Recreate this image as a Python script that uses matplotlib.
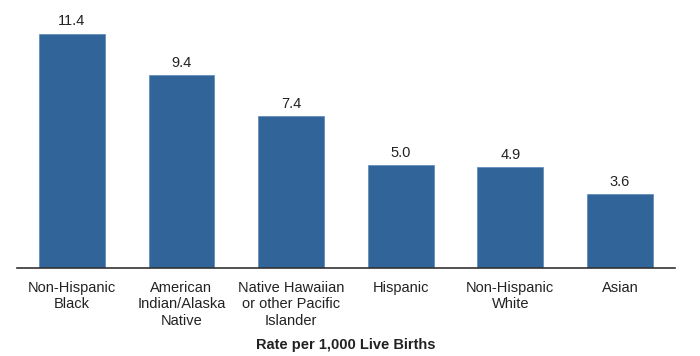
import matplotlib
matplotlib.use("Agg")
import matplotlib.pyplot as plt

categories = ["Non-Hispanic\nBlack", "American\nIndian/Alaska\nNative",
              "Native Hawaiian\nor other Pacific\nIslander", "Hispanic",
              "Non-Hispanic\nWhite", "Asian"]
values = [11.4, 9.4, 7.4, 5.0, 4.9, 3.6]

plt.rcParams['font.family'] = ['Liberation Sans', 'DejaVu Sans']

fig = plt.figure(figsize=(7.0, 3.56), dpi=100)
ax = fig.add_axes([0.0243, 0.247, 0.964 - 0.0243, 0.939 - 0.247])
x = range(len(categories))
bars = ax.bar(x, values, width=0.6, color='#31659A', edgecolor='#5a86b5', linewidth=0.5)
for xi, v in zip(x, values):
    ax.annotate(f"{v:.1f}", (xi, v), xytext=(0, 4), textcoords='offset points',
                ha='center', va='bottom', fontsize=10.5, color='#222222')
ax.set_xlim(-0.5, 5.5)
ax.set_ylim(0, 12)
ax.set_xticks(list(x))
ax.set_xticklabels(categories, fontsize=10.5, color='#222222', linespacing=1.25)
ax.tick_params(axis='x', length=0, pad=9)
ax.set_yticks([])
for s in ['top', 'right', 'left']:
    ax.spines[s].set_visible(False)
ax.spines['bottom'].set_color('#333333')
ax.spines['bottom'].set_linewidth(1.2)
ax.set_xlabel("Rate per 1,000 Live Births", fontsize=10.5, fontweight='bold',
              color='#222222', labelpad=7)
fig.savefig("out.png", dpi=100)
